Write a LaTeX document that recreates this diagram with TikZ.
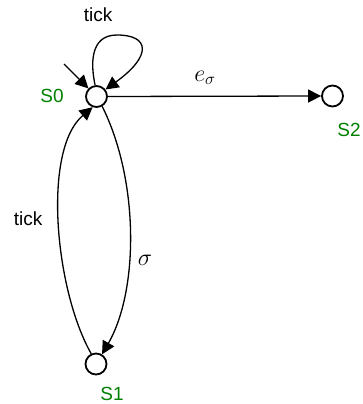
\RequirePackage{fix-cm}
\documentclass[tikz,border=0pt]{standalone}
\usepackage{fontspec}
\setmainfont{Liberation Sans}
\usetikzlibrary{arrows.meta}
\definecolor{labelgreen}{RGB}{0,128,0}
\begin{document}
\begin{tikzpicture}[x=1pt,y=-1pt,
  state/.style={circle,draw,line width=1.8pt,minimum size=21pt,inner sep=0pt,fill=white},
  arr/.style={line width=1.3pt,-{Triangle[length=13pt,width=13pt]}},
  txt/.style={inner sep=0pt,font=\fontsize{19}{22}\selectfont},
  glabel/.style={txt,text=labelgreen},
  mlabel/.style={inner sep=0pt,font=\fontsize{24}{28}\selectfont}]
\useasboundingbox (0,0) rectangle (363,404);
\node[state] (s0) at (96.5,96.5) {};
\node[state] (s2) at (332.5,96) {};
\node[state] (s1) at (96,364) {};
\node[glabel] (l0) at (52,96) {S0};
\node[glabel] (l2) at (349,130) {S2};
\node[glabel] (l1) at (112,394) {S1};
\coordinate (init) at (64,64);
\coordinate (looptop) at (117,35);
\draw[arr] (init) -- (s0.135);
\draw[arr] (s0.97) .. controls (91,66) and (89,35) .. (looptop)
  .. controls (150,35) and (152,56) .. (s0.38);
\node[txt] (t0) at (98,15) {tick};
\draw[arr] (s0.east) -- (s2.west);
\node[mlabel] (es) at (205,78) {$e_\sigma$};
\draw[arr] (s0.-60) .. controls (139,180) and (139,290) .. (s1.58);
\node[mlabel] (sg) at (145,260) {$\sigma$};
\draw[arr] (s1.115) .. controls (55,290) and (42,150) .. (s0.-110);
\node[txt] (t1) at (28,219) {tick};
\end{tikzpicture}
\end{document}
